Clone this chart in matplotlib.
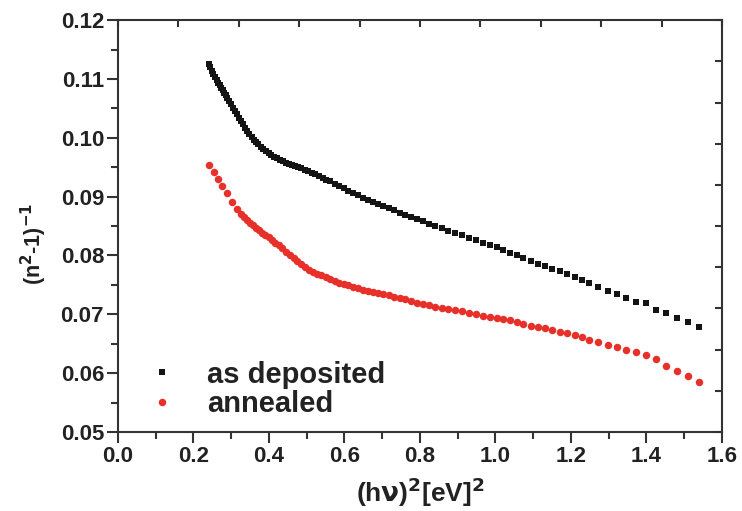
import numpy as np
import matplotlib
matplotlib.use("Agg")
import matplotlib.pyplot as plt
from matplotlib.ticker import MultipleLocator

# as deposited (black squares)
x_dep = [0.241, 0.245, 0.249, 0.253, 0.257, 0.261, 0.265, 0.269, 0.273, 0.277,
         0.281, 0.285, 0.290, 0.295, 0.300, 0.305, 0.310, 0.315, 0.320, 0.325,
         0.330, 0.336, 0.342, 0.348, 0.354, 0.360, 0.366, 0.372, 0.378, 0.385,
         0.392, 0.399, 0.406, 0.413, 0.420, 0.428, 0.436, 0.444, 0.452, 0.460,
         0.468, 0.477, 0.486, 0.495, 0.504, 0.513, 0.522, 0.532, 0.542, 0.552,
         0.562, 0.574, 0.586, 0.598, 0.610, 0.623, 0.636, 0.649, 0.662, 0.675,
         0.689, 0.703, 0.717, 0.731, 0.746, 0.761, 0.776, 0.792, 0.808, 0.824,
         0.841, 0.858, 0.875, 0.893, 0.911, 0.929, 0.948, 0.967, 0.986, 1.003,
         1.020, 1.038, 1.056, 1.074, 1.093, 1.112, 1.131, 1.150, 1.170, 1.190,
         1.210, 1.230, 1.249, 1.271, 1.297, 1.321, 1.345, 1.371, 1.398, 1.424,
         1.453, 1.480, 1.509, 1.538]
y_dep = [0.1125, 0.1120, 0.1114, 0.1108, 0.1103, 0.1098, 0.1093, 0.1089, 0.1085, 0.1081,
         0.1077, 0.1073, 0.1068, 0.1062, 0.1057, 0.1051, 0.1045, 0.1040, 0.1034, 0.1028,
         0.1023, 0.1017, 0.1011, 0.1006, 0.1001, 0.0997, 0.0993, 0.0989, 0.0985, 0.0981,
         0.0977, 0.0974, 0.0971, 0.0968, 0.0965, 0.0962, 0.0960, 0.0958, 0.0956, 0.0954,
         0.0952, 0.0950, 0.0948, 0.0946, 0.0944, 0.0941, 0.0938, 0.0935, 0.0932, 0.0929,
         0.0926, 0.0922, 0.0918, 0.0914, 0.0910, 0.0906, 0.0902, 0.0898, 0.0895, 0.0891,
         0.0888, 0.0884, 0.0881, 0.0877, 0.0873, 0.0869, 0.0865, 0.0862, 0.0858, 0.0854,
         0.0850, 0.0846, 0.0842, 0.0838, 0.0834, 0.0830, 0.0826, 0.0822, 0.0818, 0.0814,
         0.0810, 0.0805, 0.0800, 0.0795, 0.0791, 0.0786, 0.0782, 0.0777, 0.0773, 0.0768,
         0.0763, 0.0758, 0.0753, 0.0746, 0.0740, 0.0735, 0.0728, 0.0721, 0.0719, 0.0707,
         0.0702, 0.0694, 0.0687, 0.0678]

# annealed (red circles)
x_ann = [0.241, 0.254, 0.265, 0.276, 0.289, 0.302, 0.315, 0.325, 0.333, 0.341,
         0.349, 0.357, 0.365, 0.373, 0.381, 0.390, 0.399, 0.408, 0.417, 0.426,
         0.435, 0.445, 0.455, 0.465, 0.475, 0.485, 0.495, 0.506, 0.517, 0.528,
         0.539, 0.550, 0.562, 0.574, 0.586, 0.598, 0.610, 0.623, 0.636, 0.649,
         0.662, 0.675, 0.689, 0.703, 0.717, 0.731, 0.746, 0.761, 0.776, 0.792,
         0.808, 0.824, 0.841, 0.858, 0.875, 0.893, 0.911, 0.929, 0.948, 0.967,
         0.986, 1.003, 1.020, 1.038, 1.056, 1.074, 1.093, 1.112, 1.131, 1.150,
         1.170, 1.190, 1.210, 1.230, 1.249, 1.271, 1.297, 1.321, 1.345, 1.371,
         1.398, 1.424, 1.453, 1.480, 1.509, 1.538]
y_ann = [0.0954, 0.0942, 0.0930, 0.0918, 0.0906, 0.0891, 0.0879, 0.0871, 0.0866, 0.0860,
         0.0855, 0.0851, 0.0847, 0.0843, 0.0839, 0.0835, 0.0831, 0.0827, 0.0822, 0.0817,
         0.0812, 0.0806, 0.0800, 0.0795, 0.0790, 0.0785, 0.0780, 0.0776, 0.0772, 0.0769,
         0.0766, 0.0763, 0.0760, 0.0757, 0.0754, 0.0752, 0.0750, 0.0747, 0.0745, 0.0742,
         0.0740, 0.0738, 0.0736, 0.0734, 0.0732, 0.0730, 0.0728, 0.0726, 0.0723, 0.0720,
         0.0718, 0.0716, 0.0713, 0.0711, 0.0709, 0.0707, 0.0705, 0.0703, 0.0700, 0.0698,
         0.0696, 0.0694, 0.0692, 0.0690, 0.0687, 0.0684, 0.0681, 0.0678, 0.0676, 0.0673,
         0.0670, 0.0668, 0.0665, 0.0662, 0.0656, 0.0653, 0.0648, 0.0644, 0.0639, 0.0636,
         0.0631, 0.0624, 0.0612, 0.0604, 0.0595, 0.0585]

plt.rcParams['font.family'] = ['Liberation Sans', 'DejaVu Sans']
plt.rcParams['font.weight'] = 'bold'
plt.rcParams['mathtext.default'] = 'bf'

fig = plt.figure(figsize=(7.42, 5.11), dpi=100)
ax = fig.add_axes([0.159, 0.1546, 0.814, 0.806])

ax.plot(x_dep, y_dep, 's', color='#141414', markersize=5.0, markeredgewidth=0,
        label='as deposited')
ax.plot(x_ann, y_ann, 'o', color='#e8302a', markersize=5.4, markeredgewidth=0,
        label='annealed')

ax.set_xlim(0.0, 1.6)
ax.set_ylim(0.05, 0.12)
ax.xaxis.set_major_locator(MultipleLocator(0.2))
ax.xaxis.set_minor_locator(MultipleLocator(0.1))
ax.yaxis.set_major_locator(MultipleLocator(0.01))
ax.yaxis.set_minor_locator(MultipleLocator(0.005))
ax.xaxis.set_major_formatter(plt.FormatStrFormatter('%.1f'))
ax.yaxis.set_major_formatter(plt.FormatStrFormatter('%.2f'))

frame = '#333333'
for s in ax.spines.values():
    s.set_linewidth(1.5)
    s.set_color(frame)
ax.tick_params(which='major', direction='out', length=8, width=1.5, color=frame,
               labelsize=16, pad=2, top=False, right=False)
ax.tick_params(which='minor', direction='out', length=5, width=1.5, color=frame,
               top=False, right=False)
for lab in ax.get_xticklabels() + ax.get_yticklabels():
    lab.set_fontweight('bold')
    lab.set_color('#222222')

# top and right frame ticks (ten equal divisions, inward)
axt = ax.twiny()
axt.set_xlim(0, 1)
axt.set_xticks(np.linspace(0, 1, 11))
axt.tick_params(axis='x', direction='in', length=5, width=1.5, color=frame,
                labeltop=False)
axr = ax.twinx()
axr.set_ylim(0, 1)
axr.set_yticks(np.linspace(0, 1, 11))
axr.tick_params(axis='y', direction='in', length=5, width=1.5, color=frame,
                labelright=False)
for a in (axt, axr):
    for s in a.spines.values():
        s.set_visible(False)

ax.set_xlabel(r'(h$\mathbf{\nu}$)$^{\mathbf{2}}$[eV]$^{\mathbf{2}}$', fontsize=19,
              fontweight='bold', color='#222222', labelpad=6)
ax.set_ylabel(r'(n$^{\mathbf{2}}$-1)$^{\mathbf{-1}}$', fontsize=15.5,
              fontweight='bold', color='#222222')
ax.yaxis.set_label_coords(-0.115, 0.456)

leg = ax.legend(loc='lower left', bbox_to_anchor=(-0.01, -0.03), frameon=False,
                fontsize=21, handletextpad=0.75, labelspacing=0.05,
                markerscale=1.0, handlelength=1.6)
for t in leg.get_texts():
    t.set_fontweight('bold')
    t.set_color('#222222')

fig.savefig('out.png', dpi=100)
